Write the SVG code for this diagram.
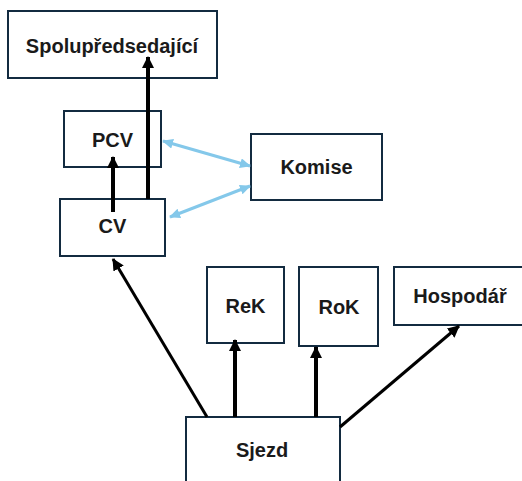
<svg xmlns="http://www.w3.org/2000/svg" width="522" height="481" viewBox="0 0 522 481">
<style>
.box{fill:#ffffff;stroke:#132b40;stroke-width:2}
.lbl{font-family:"Liberation Sans",Arial,sans-serif;font-weight:bold;font-size:20px;fill:#1a1a1a;text-anchor:middle}
.blk{stroke:#000;fill:none}
.blu{stroke:#84c8ea;stroke-width:3;fill:none}
</style>
<defs>
<marker id="ah" markerUnits="userSpaceOnUse" markerWidth="12" markerHeight="12" refX="11" refY="6" orient="auto">
<path d="M0,0 L12,6 L0,12 z" fill="#000"/>
</marker>
<marker id="bh" markerUnits="userSpaceOnUse" markerWidth="11" markerHeight="10" refX="10" refY="5" orient="auto-start-reverse">
<path d="M0,0 L11,5 L0,10 z" fill="#84c8ea"/>
</marker>
</defs>
<g id="n-spolu"><rect class="box" x="8" y="11" width="209" height="67"/><text class="lbl" x="112" y="53">Spolupředsedající</text></g>
<g id="n-pcv"><rect class="box" x="64" y="111" width="97" height="56"/><text class="lbl" x="112.5" y="147">PCV</text></g>
<g id="n-cv"><rect class="box" x="60" y="199" width="105" height="57"/><text class="lbl" x="112.5" y="233">CV</text></g>
<g id="n-komise"><rect class="box" x="251" y="134" width="131" height="66"/><text class="lbl" x="316.5" y="174">Komise</text></g>
<g id="n-rek"><rect class="box" x="207" y="267" width="77" height="76"/><text class="lbl" x="245.5" y="313">ReK</text></g>
<g id="n-rok"><rect class="box" x="299" y="267" width="79" height="79"/><text class="lbl" x="339" y="314">RoK</text></g>
<g id="n-hosp"><rect class="box" x="394" y="267" width="132" height="58"/><text class="lbl" x="460" y="303">Hospodář</text></g>
<g id="n-sjezd"><rect class="box" x="186" y="417" width="154" height="70"/><text class="lbl" x="262" y="457">Sjezd</text></g>
<g id="connectors">
<line class="blk" stroke-width="4" x1="148" y1="199" x2="148" y2="57" marker-end="url(#ah)"/>
<line class="blk" stroke-width="4" x1="113" y1="212" x2="113" y2="157" marker-end="url(#ah)"/>
<line class="blu" x1="163" y1="141" x2="250" y2="166" marker-start="url(#bh)" marker-end="url(#bh)"/>
<line class="blu" x1="170" y1="217" x2="250" y2="186" marker-start="url(#bh)" marker-end="url(#bh)"/>
<line class="blk" stroke-width="3" x1="207" y1="417" x2="113" y2="259" marker-end="url(#ah)"/>
<line class="blk" stroke-width="4" x1="235" y1="417" x2="235" y2="340" marker-end="url(#ah)"/>
<line class="blk" stroke-width="4" x1="316" y1="417" x2="316" y2="347" marker-end="url(#ah)"/>
<line class="blk" stroke-width="3" x1="340" y1="427" x2="459" y2="326" marker-end="url(#ah)"/>
</g>
</svg>
